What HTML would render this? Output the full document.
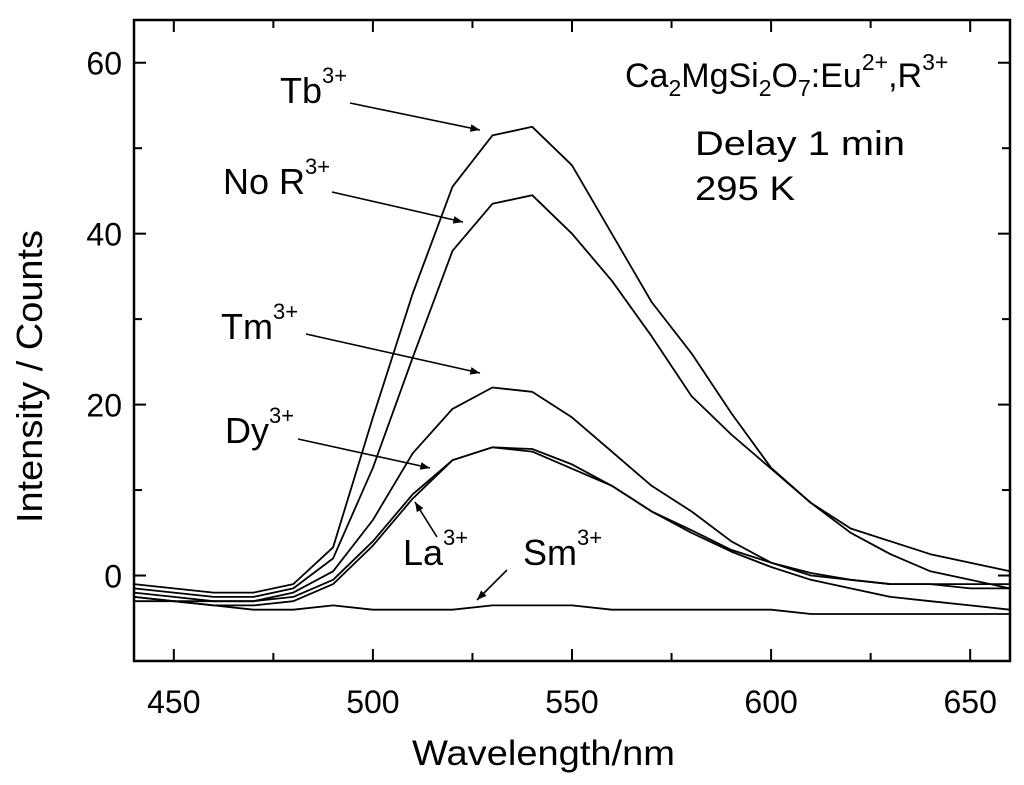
<!DOCTYPE html>
<html><head><meta charset="utf-8"><style>
body{margin:0;background:#fff}
text{font-family:"Liberation Sans",sans-serif;fill:#000}
</style></head><body>
<svg id="chart" width="1024" height="780" xmlns="http://www.w3.org/2000/svg">
<defs><marker id="ah" viewBox="0 0 10 10" refX="10" refY="5" markerWidth="9" markerHeight="6" orient="auto"><path d="M0,1 L10,5 L0,9 z" fill="#000"/></marker></defs>
<g id="series"></g>
<rect x="134" y="20" width="876" height="641" fill="none" stroke="#000" stroke-width="2.5"/>
<g id="axes"></g>
<text x="412" y="765" font-size="35" textLength="263" lengthAdjust="spacingAndGlyphs">Wavelength/nm</text>
<text transform="translate(42,523) rotate(-90)" font-size="36" textLength="293" lengthAdjust="spacingAndGlyphs">Intensity / Counts</text>
<text x="625" y="87" font-size="34">Ca<tspan font-size="23" dy="9">2</tspan><tspan dy="-9">MgSi</tspan><tspan font-size="23" dy="9">2</tspan><tspan dy="-9">O</tspan><tspan font-size="23" dy="9">7</tspan><tspan dy="-9">:Eu</tspan><tspan font-size="23" dy="-17">2+</tspan><tspan dy="17">,R</tspan><tspan font-size="23" dy="-17">3+</tspan></text>
<text x="695" y="155" font-size="34" textLength="210" lengthAdjust="spacingAndGlyphs">Delay 1 min</text>
<text x="695" y="200" font-size="34" textLength="100" lengthAdjust="spacingAndGlyphs">295 K</text>
<g font-size="36">
<text x="280" y="103">Tb<tspan font-size="22" dy="-20">3+</tspan></text>
<text x="223" y="194">No R<tspan font-size="22" dy="-20">3+</tspan></text>
<text x="221" y="339">Tm<tspan font-size="22" dy="-20">3+</tspan></text>
<text x="225" y="443">Dy<tspan font-size="22" dy="-20">3+</tspan></text>
<text x="403" y="565">La<tspan font-size="22" dy="-20">3+</tspan></text>
<text x="523" y="565">Sm<tspan font-size="22" dy="-20">3+</tspan></text>
<line x1="350" y1="103" x2="480" y2="130" stroke="#000" stroke-width="1.6" marker-end="url(#ah)"/>
<line x1="332" y1="192" x2="463" y2="222" stroke="#000" stroke-width="1.6" marker-end="url(#ah)"/>
<line x1="306" y1="334" x2="480" y2="373" stroke="#000" stroke-width="1.6" marker-end="url(#ah)"/>
<line x1="298" y1="439" x2="430" y2="468" stroke="#000" stroke-width="1.6" marker-end="url(#ah)"/>
<line x1="437" y1="537" x2="415" y2="502" stroke="#000" stroke-width="1.6" marker-end="url(#ah)"/>
<line x1="507" y1="570" x2="477" y2="600" stroke="#000" stroke-width="1.6" marker-end="url(#ah)"/>
</g>
</svg>
<script>
const wavelengths=[440,450,460,470,480,490,500,510,520,530,540,550,560,570,580,590,600,610,620,630,640,650,660];
const tb=[-1,-1.5,-2,-2,-1,3.3,18.5,33,45.5,51.5,52.5,48,40,32,26,19,12.6,8.5,5.5,4,2.5,1.5,0.5];
const noR=[-1.5,-2,-2.5,-2.5,-1.5,2,12.6,25.5,38,43.5,44.5,40,34.5,28,21,16.5,12.5,8.5,5,2.5,0.5,-0.5,-1.5];
const tm=[-2,-2.5,-3,-3,-2,0.5,6.5,14.3,19.5,22,21.5,18.5,14.5,10.5,7.5,4,1.5,0.3,-0.5,-1,-1,-1,-1];
const dy=[-2.5,-3,-3,-3,-2.5,-0.5,4,9.5,13.5,15,14.8,13,10.5,7.5,5.3,3,1.5,0,-0.5,-1,-1,-1.5,-1.5];
const la=[-3,-3,-3.5,-3.5,-3,-1,3.5,9,13.5,15,14.5,12.5,10.5,7.5,5,2.8,1,-0.5,-1.5,-2.5,-3,-3.5,-4];
const sm=[-2.5,-3,-3.5,-4,-4,-3.5,-4,-4,-4,-3.5,-3.5,-3.5,-4,-4,-4,-4,-4,-4.5,-4.5,-4.5,-4.5,-4.5,-4.5];
const xTicks=[450,500,550,600,650];
const yTicks=[0,20,40,60];
const NS="http://www.w3.org/2000/svg";
const X0=440,X1=660,Y0=-10,Y1=65,L=134,R=1010,T=20,B=661;
const sx=v=>L+(v-X0)/(X1-X0)*(R-L);
const sy=v=>B-(v-Y0)/(Y1-Y0)*(B-T);
const g=document.getElementById('series'),ax=document.getElementById('axes');
function mk(t,a,p){const e=document.createElementNS(NS,t);for(const k in a)e.setAttribute(k,a[k]);p.appendChild(e);return e;}
const list=[['series-tb',tb],['series-no-r',noR],['series-tm',tm],['series-dy',dy],['series-la',la],['series-sm',sm]];
list.forEach(([n,arr])=>{
 const d=arr.map((v,i)=>(i?'L':'M')+sx(wavelengths[i]).toFixed(1)+','+sy(v).toFixed(1)).join(' ');
 const p=mk('path',{d:d,fill:'none',stroke:'#000','stroke-width':1.8,'stroke-linejoin':'round'},g);
 
 
});
for(let v=450;v<=650;v+=25){const big=v%50===0;
 [[B,B-(big?12:8)],[T,T+(big?12:8)]].forEach(([a,b])=>{const l=mk('line',{x1:sx(v),x2:sx(v),y1:a,y2:b,stroke:'#000','stroke-width':2},ax);
 
 });}
xTicks.forEach(v=>{const t=mk('text',{x:sx(v),y:713,'font-size':32,'text-anchor':'middle'},ax);t.textContent=v;
 
 });
for(let v=-10;v<=60;v+=10){const big=v%20===0;
 [[L,L+(big?12:8)],[R,R-(big?12:8)]].forEach(([a,b])=>{const l=mk('line',{x1:a,x2:b,y1:sy(v),y2:sy(v),stroke:'#000','stroke-width':2},ax);
 
 });}
yTicks.forEach(v=>{const t=mk('text',{x:122,y:sy(v)+12,'font-size':32,'text-anchor':'end'},ax);t.textContent=v;
 
 });
</script>
</body></html>
